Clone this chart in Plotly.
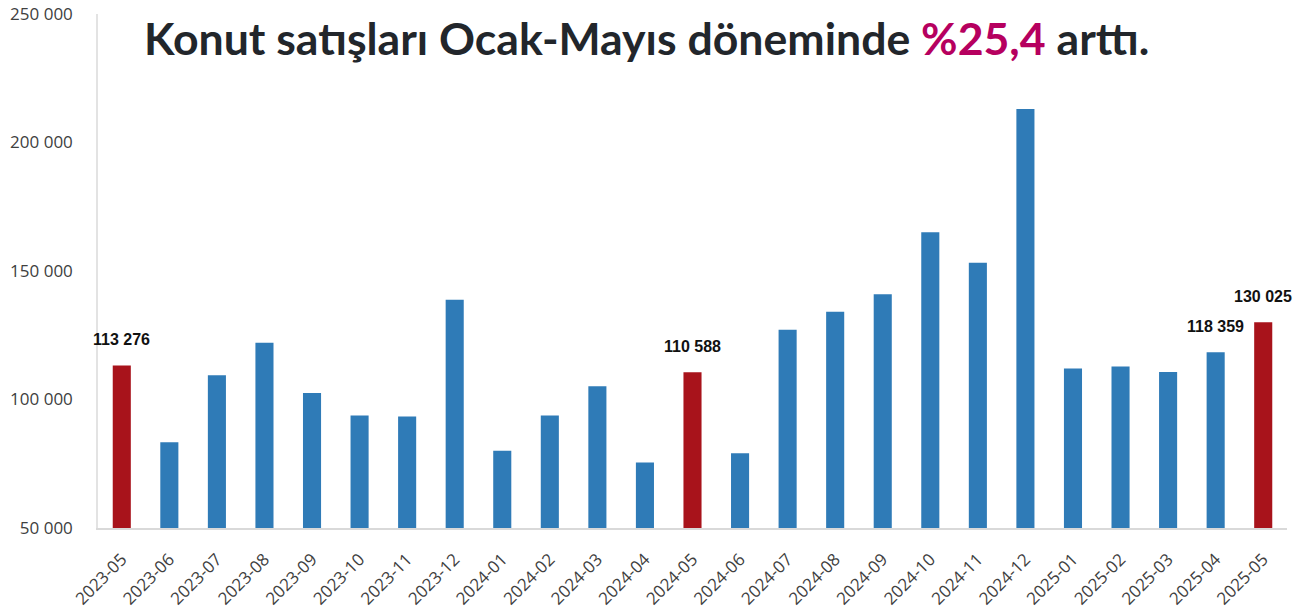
import plotly.graph_objects as go

months = ["2023-05", "2023-06", "2023-07", "2023-08", "2023-09", "2023-10", "2023-11", "2023-12",
          "2024-01", "2024-02", "2024-03", "2024-04", "2024-05", "2024-06", "2024-07", "2024-08",
          "2024-09", "2024-10", "2024-11", "2024-12", "2025-01", "2025-02", "2025-03", "2025-04",
          "2025-05"]
sales = [113276, 83400, 109400, 122100, 102500, 93800, 93400, 138800,
         80100, 93800, 105200, 75500, 110588, 79100, 127100, 134100,
         141000, 165100, 153200, 213000, 112100, 112800, 110700, 118359,
         130025]
highlight = ["2023-05", "2024-05", "2025-05"]
labelled = ["2023-05", "2024-05", "2025-04", "2025-05"]
y_ticks = [50000, 100000, 150000, 200000, 250000]
y_tick_text = ["50 000", "100 000", "150 000", "200 000", "250 000"]

BLUE = "#2F7BB7"
RED = "#A8131B"

colors = [RED if m in highlight else BLUE for m in months]

def fmt(v):
    return f"{v:,}".replace(",", " ")

fig = go.Figure()
fig.add_trace(go.Bar(x=months, y=sales, marker=dict(color=colors, line=dict(width=0)),
                     hoverinfo="x+y"))

annotations = []
for m, v in zip(months, sales):
    if m in labelled:
        annotations.append(dict(x=m, y=v, xref="x", yref="y", text=fmt(v), showarrow=False,
                                yanchor="bottom", yshift=15,
                                font=dict(family="Liberation Sans, Arial", size=16, color="#111111",
                                          weight="bold")))

annotations.append(dict(
    x=0.461, y=1.0, xref="paper", yref="paper", xanchor="center", yanchor="middle", yshift=-23,
    text="Konut satışları Ocak-Mayıs döneminde <span style='color:#B6005F'>%25,4</span> arttı.",
    showarrow=False,
    font=dict(family="Lato", size=44.6, color="#22262B", weight="bold")))

fig.update_layout(
    width=1293, height=613,
    margin=dict(l=98, r=6, t=14, b=85, autoexpand=False),
    paper_bgcolor="white", plot_bgcolor="white",
    bargap=0.62,
    showlegend=False,
    xaxis=dict(type="category", tickangle=-45, showgrid=False, showline=True,
               linecolor="#D9D9D9", linewidth=1.5, ticks="", automargin=False,
               range=[-0.5, len(months) - 0.5],
               ticklabelstandoff=13,
               tickfont=dict(family="Open Sans", size=17, color="#404040")),
    yaxis=dict(range=[50000, 250000], tickvals=y_ticks, ticktext=y_tick_text,
               showgrid=False, showline=True, linecolor="#E3E3E3", linewidth=1.5,
               zeroline=False, ticks="", ticklabelstandoff=20, automargin=False,
               tickfont=dict(family="Open Sans", size=17, color="#404040")),
    annotations=annotations,
)

fig.write_html("out.html", config={"displayModeBar": False},
               post_script="document.body.style.margin='0px';")
